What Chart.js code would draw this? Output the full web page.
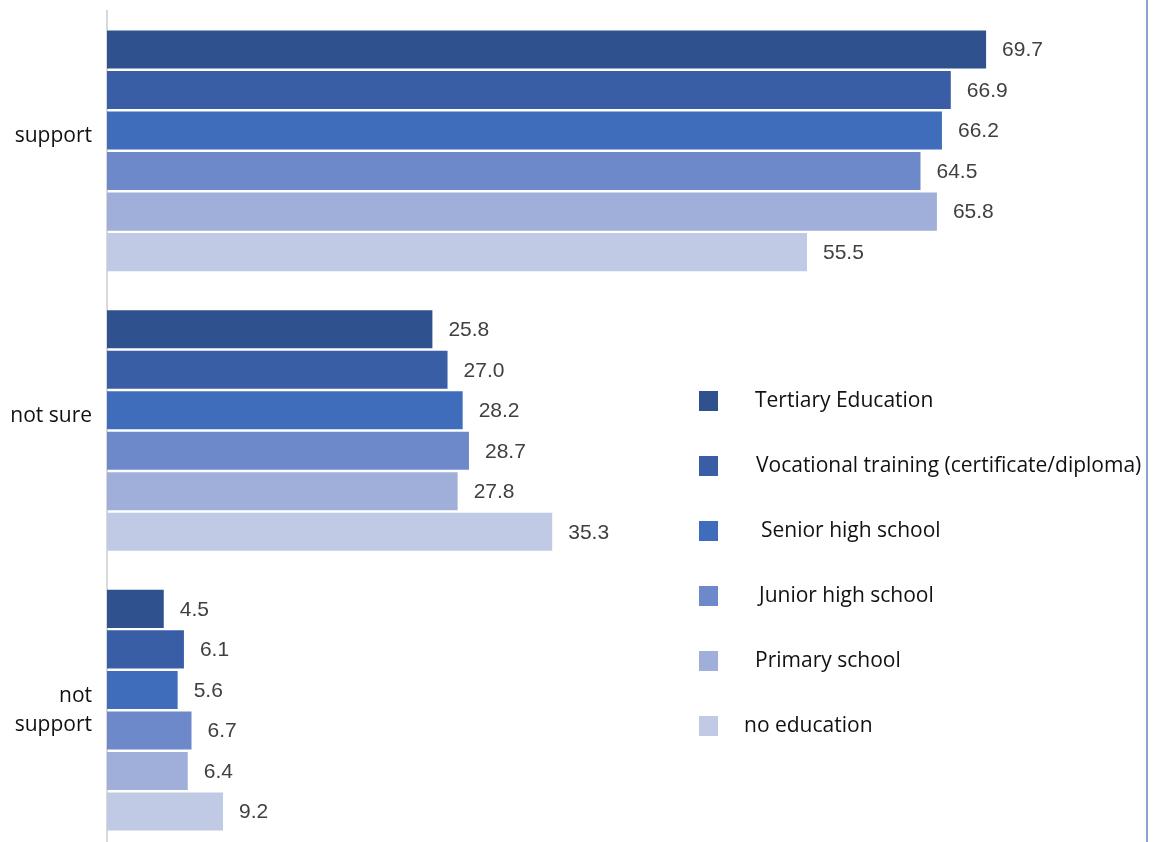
<!DOCTYPE html>
<html>
<head>
<meta charset="utf-8">
<script src="https://cdn.jsdelivr.net/npm/chart.js@4"></script>
<style>
  html, body { margin: 0; padding: 0; background: #fff; overflow: hidden; }
  #wrap { position: relative; width: 1155px; height: 850px; }
  #rline { position: absolute; left: 1146px; top: 0; width: 2px; height: 842px; background: #8aa4d0; }
</style>
</head>
<body>
<div id="wrap">
  <canvas id="chart1" width="1155" height="850"></canvas>
  <div id="rline"></div>
</div>
<script>
const categories = [["support", ""], ["not sure", ""], ["not", "support"]];
const seriesNames = [
  "Tertiary Education",
  "Vocational training (certificate/diploma)",
  "Senior high school",
  "Junior high school",
  "Primary school",
  "no education"
];
const tertiary = [69.7, 25.8, 4.5];
const vocational = [66.9, 27.0, 6.1];
const seniorHigh = [66.2, 28.2, 5.6];
const juniorHigh = [64.5, 28.7, 6.7];
const primary = [65.8, 27.8, 6.4];
const noEducation = [55.5, 35.3, 9.2];
const seriesValues = [tertiary, vocational, seniorHigh, juniorHigh, primary, noEducation];
const seriesColors = ['#2f528f', '#3a5ea6', '#3f6dbc', '#6e89ca', '#a0afd9', '#c0cae5'];

// étiquettes de valeur au bout des barres
const valueLabels = {
  id: 'valueLabels',
  afterDatasetsDraw(chart) {
    const ctx = chart.ctx;
    ctx.save();
    ctx.font = '21px "Liberation Sans", Arial, sans-serif';
    ctx.fillStyle = '#404040';
    ctx.textAlign = 'left';
    ctx.textBaseline = 'middle';
    chart.data.datasets.forEach((ds, i) => {
      chart.getDatasetMeta(i).data.forEach((bar, j) => {
        ctx.fillText(ds.data[j].toFixed(1), bar.x + 16, bar.y + 1);
      });
    });
    ctx.restore();
  }
};

// légende dessinée dans la zone du graphique
const sideLegend = {
  id: 'sideLegend',
  afterDraw(chart, args, opts) {
    const ctx = chart.ctx;
    ctx.save();
    ctx.font = '21px "Open Sans", sans-serif';
    ctx.textBaseline = 'middle';
    chart.data.datasets.forEach((ds, i) => {
      const cy = opts.top + i * opts.step;
      ctx.fillStyle = ds.backgroundColor;
      ctx.fillRect(opts.left, cy - 10, 19, 20);
      ctx.fillStyle = '#111';
      ctx.fillText(ds.label, opts.textX[i], cy);
    });
    ctx.restore();
  }
};

const ctx1 = document.getElementById("chart1");
const chart1 = new Chart(ctx1, {
  type: "bar",
  data: {
    labels: categories,
    datasets: seriesNames.map((name, i) => ({
      label: name,
      data: seriesValues[i],
      backgroundColor: seriesColors[i],
      borderWidth: 0,
      categoryPercentage: 0.869,
      barPercentage: 0.94
    }))
  },
  options: {
    indexAxis: 'y',
    responsive: false,
    animation: false,
    layout: { padding: { top: 11, right: 39, bottom: 0, left: 0 } },
    plugins: {
      legend: { display: false },
      tooltip: { enabled: false },
      sideLegend: {
        left: 699,
        top: 401,
        step: 65,
        textX: [755, 756, 761, 759, 755, 744]
      }
    },
    scales: {
      x: {
        display: false,
        min: 0,
        max: 80
      },
      y: {
        afterFit(scale) {
          scale.width = 107;
          scale.paddingTop = 0;
          scale.paddingBottom = 0;
        },
        grid: { display: false, drawTicks: false },
        border: { display: true, color: '#d9d9d9', width: 2 },
        ticks: {
          color: '#111',
          padding: 15,
          font: { family: '"Open Sans", sans-serif', size: 21, lineHeight: 1.38 }
        }
      }
    }
  },
  plugins: [valueLabels, sideLegend]
});
</script>
</body>
</html>
